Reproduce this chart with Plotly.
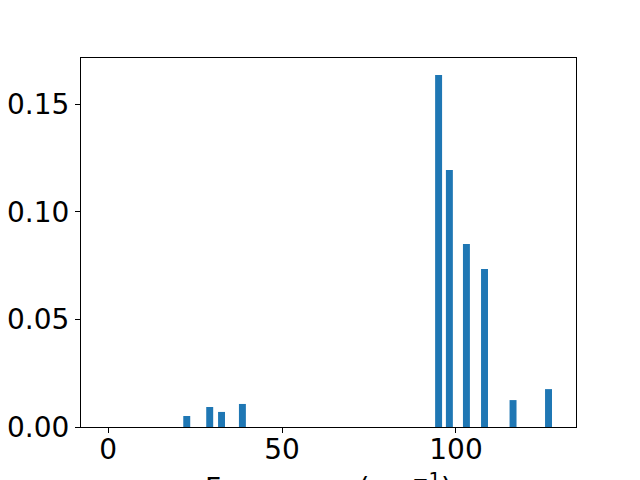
import plotly.graph_objects as go

frequencies = [22.6, 29.2, 32.6, 38.6, 95.0, 98.1, 103.0, 108.2, 116.4, 126.6]
intensities = [0.0051, 0.0093, 0.0070, 0.0107, 0.1635, 0.1194, 0.0850, 0.0734, 0.0125, 0.0176]
x_ticks = [0, 50, 100]
y_ticks = [0.0, 0.05, 0.10, 0.15]

fig = go.Figure(go.Bar(
    x=frequencies, y=intensities, width=2.0,
    marker=dict(color="#1f77b4", line=dict(width=0)),
))

font = dict(family="DejaVu Sans", size=28, color="black")
axis_common = dict(showline=True, linecolor="black", linewidth=1, mirror=True,
                   ticks="outside", ticklen=5, tickwidth=1, tickcolor="black",
                   showgrid=False, zeroline=False, tickfont=font, automargin=False)

fig.update_layout(
    width=640, height=480,
    margin=dict(l=81, r=64, t=58, b=53),
    plot_bgcolor="white", paper_bgcolor="white",
    showlegend=False,
    font=font,
    xaxis=dict(range=[-7.8, 134.5], tickvals=x_ticks, ticktext=[str(v) for v in x_ticks],
               ticklabelstandoff=-8, **axis_common),
    yaxis=dict(range=[0, 0.1714], tickvals=y_ticks, tickformat=".2f", **axis_common),
    annotations=[dict(text="Frequency (cm<sup>−1</sup>)", xref="paper", yref="paper",
                      x=0.5, y=-0.107, xanchor="center", yanchor="top",
                      showarrow=False, font=font)],
)

fig.write_html("out.html", config={"displayModeBar": False},
               post_script="document.body.style.margin='0';document.body.style.overflow='hidden';")
